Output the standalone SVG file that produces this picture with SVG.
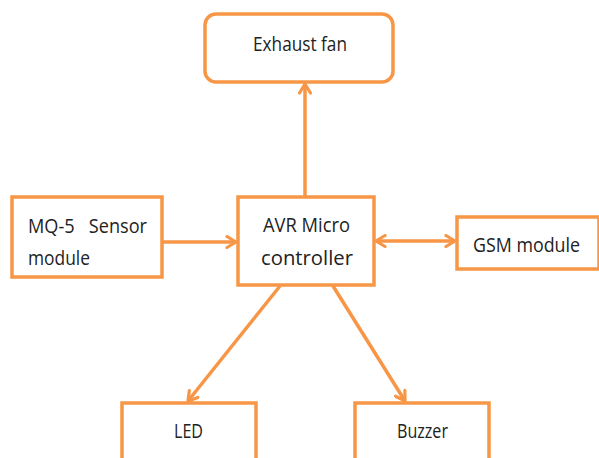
<svg xmlns="http://www.w3.org/2000/svg" width="599" height="458" viewBox="0 0 599 458">
<defs>
<style>
.box{fill:#fff;stroke:#F79646;stroke-width:3.5}
.ln{fill:none;stroke:#F79646;stroke-width:3.5}
.t{font-family:"Open Sans","Liberation Sans",sans-serif;font-size:20px;fill:#222}
</style>
<marker id="ah" viewBox="0 0 14 14" refX="11" refY="7" markerWidth="14" markerHeight="14" markerUnits="userSpaceOnUse" orient="auto-start-reverse">
<path d="M2,1.5 L11,7 L2,12.5" fill="none" stroke="#F79646" stroke-width="3.2" stroke-linecap="round" stroke-linejoin="round"/>
</marker>
</defs>
<g id="connectors">
<line class="ln" x1="305" y1="196" x2="305" y2="84" marker-end="url(#ah)"/>
<line class="ln" x1="162" y1="242" x2="236" y2="242" marker-end="url(#ah)"/>
<line class="ln" x1="376" y1="241" x2="455" y2="241" marker-start="url(#ah)" marker-end="url(#ah)"/>
<line class="ln" x1="280" y1="286" x2="188" y2="401" marker-end="url(#ah)"/>
<line class="ln" x1="333" y1="286" x2="405" y2="401" marker-end="url(#ah)"/>
</g>
<g id="exhaust">
<rect class="box" x="205" y="14" width="188" height="68" rx="11"/>
<text class="t" x="253" y="51" textLength="94" lengthAdjust="spacingAndGlyphs">Exhaust fan</text>
</g>
<g id="mq5">
<rect class="box" x="12" y="197" width="150" height="80"/>
<text class="t" x="28" y="233" textLength="119" lengthAdjust="spacingAndGlyphs" xml:space="preserve">MQ-5   Sensor</text>
<text class="t" x="28" y="265" textLength="62" lengthAdjust="spacingAndGlyphs">module</text>
</g>
<g id="avr">
<rect class="box" x="238" y="197" width="136" height="88"/>
<text class="t" x="263" y="232" textLength="87" lengthAdjust="spacingAndGlyphs">AVR Micro</text>
<text class="t" x="261" y="265" textLength="92" lengthAdjust="spacingAndGlyphs">controller</text>
</g>
<g id="gsm">
<rect class="box" x="457" y="217" width="142" height="52"/>
<text class="t" x="473" y="252" textLength="107" lengthAdjust="spacingAndGlyphs">GSM module</text>
</g>
<g id="led">
<rect class="box" x="122" y="403" width="134" height="60"/>
<text class="t" x="174" y="438" textLength="29" lengthAdjust="spacingAndGlyphs">LED</text>
</g>
<g id="buzzer">
<rect class="box" x="355" y="403" width="134" height="60"/>
<text class="t" x="397" y="438" textLength="51" lengthAdjust="spacingAndGlyphs">Buzzer</text>
</g>
</svg>
